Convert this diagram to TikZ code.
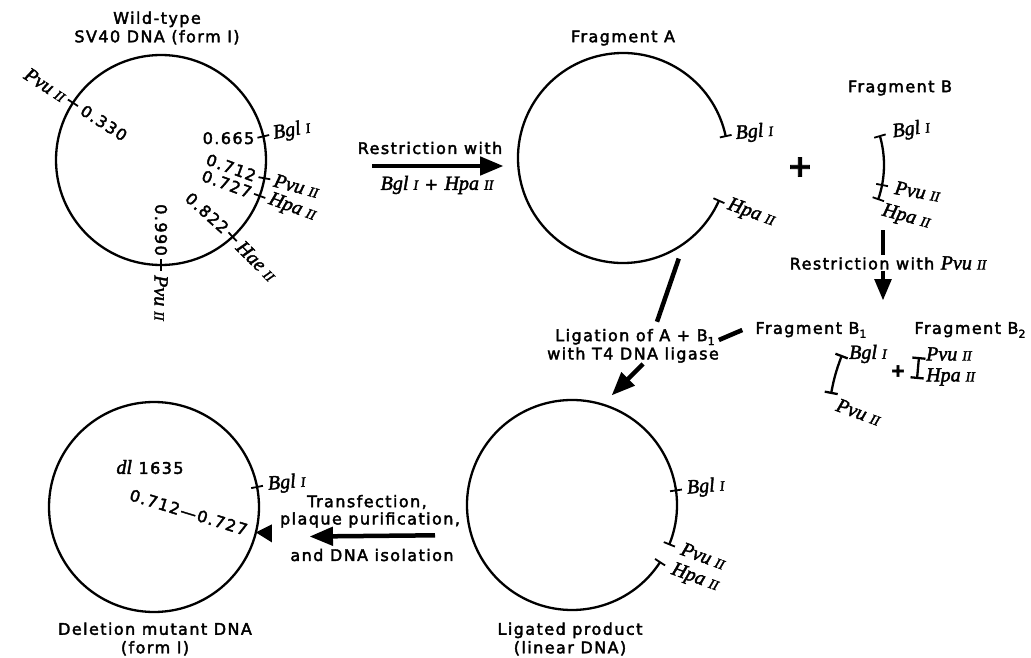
\documentclass[tikz,border=0pt]{standalone}
\usepackage{fontspec}
\setmainfont{DejaVu Sans}[LetterSpace=9,FakeBold=2.5]
\newfontfamily\enzfont{Liberation Serif}[FakeBold=2]
\usepackage{tikz}
\usetikzlibrary{arrows,calc}

% enzyme name: italic name + roman number
\newcommand{\enz}[2]{{\enzfont\itshape\fontsize{20}{20}\selectfont #1\ \fontsize{14}{14}\selectfont #2}}
\newcommand{\sub}[1]{\raisebox{-0.45ex}{\fontsize{11}{11}\selectfont #1}}

\begin{document}
\begin{tikzpicture}[x=1pt,y=1pt,>=triangle 45,
    txt/.style={font=\fontsize{16}{18.5}\selectfont,align=center,inner sep=1pt},
    num/.style={font=\fontsize{16}{18}\selectfont,inner sep=1pt},
    enzl/.style={inner sep=1pt},
    ring/.style={circle,minimum size=210pt,inner sep=0pt,outer sep=0pt},
    dna/.style={line width=2.3pt},
    site/.style={line width=1.8pt},
    heavy/.style={line width=4.5pt}]
    \useasboundingbox (0,0) rectangle (1031,-658);

    % wild-type circle
    \node[txt] (wttitle) at (157,-28) {Wild-type\\SV40 DNA (form I)};
    \node[ring,draw,dna] (wt) at (161,-160) {};
    \foreach \a in {147,13,-10,-20,-47,-90}
        \draw[site] ([shift={(\a+180:6)}]wt.\a) -- ([shift={(\a:6)}]wt.\a);
    \node[num,anchor=west,rotate=-33] (n330) at ([shift={(327:10)}]wt.147) {0.330};
    \node[enzl,anchor=east,rotate=-33] (pvua) at ([shift={(147:9)}]wt.147) {\enz{Pvu}{II}};
    \node[num,anchor=east] (n665) at ([shift={(193:8)}]wt.13) {0.665};
    \node[enzl,anchor=west,rotate=10] (bgla) at ([shift={(13:9)}]wt.13) {\enz{Bgl}{I}};
    \node[num,anchor=east,rotate=-20] (n712) at ([shift={(170:8)}]wt.-10) {0.712};
    \node[enzl,anchor=west,rotate=-15] (pvub) at ([shift={(-10:9)}]wt.-10) {\enz{Pvu}{II}};
    \node[num,anchor=east,rotate=-20] (n727) at ([shift={(160:8)}]wt.-20) {0.727};
    \node[enzl,anchor=west,rotate=-20] (hpaa) at ([shift={(-20:9)}]wt.-20) {\enz{Hpa}{II}};
    \node[num,anchor=east,rotate=-42] (n822) at ([shift={(133:8)}]wt.-47) {0.822};
    \node[enzl,anchor=west,rotate=-45] (haea) at ([shift={(-47:9)}]wt.-47) {\enz{Hae}{II}};
    \node[num,anchor=east,rotate=-90] (n990) at ([shift={(90:8)}]wt.-90) {0.990};
    \node[enzl,anchor=west,rotate=-90] (pvuc) at ([shift={(-90:9)}]wt.-90) {\enz{Pvu}{II}};

    % fragment A
    \node[txt] (fatitle) at (623,-38) {Fragment A};
    \node[ring] (fa) at (623,-158) {};
    \draw[dna] (fa.12) arc[start angle=12,end angle=336,radius=105];
    \foreach \a in {12,-24}
        \draw[site] ([shift={(\a+180:6)}]fa.\a) -- ([shift={(\a:6)}]fa.\a);
    \node[enzl,anchor=west,rotate=5] (bglfa) at ([shift={(12:9)}]fa.12) {\enz{Bgl}{I}};
    \node[enzl,anchor=west,rotate=-20] (hpafa) at ([shift={(-24:9)}]fa.-24) {\enz{Hpa}{II}};
    \node[font=\fontsize{30}{30}\selectfont\bfseries] (plusa) at (800,-167) {+};

    % first restriction
    \node[txt] (cut1) at (430,-148) {Restriction with};
    \node[txt] (cut2) at (437,-185) {\enz{Bgl}{I} + \enz{Hpa}{II}};
    \draw[heavy,->,shorten <=106pt,shorten >=15pt] ([yshift=-6pt]wt.east) -- ([yshift=-8pt]fa.west);

    % fragment B
    \node[txt] (fbtitle) at (900,-88) {Fragment B};
    \node[ring] (fb) at (779,-165) {};
    \draw[dna] (fb.16) arc[start angle=16,end angle=-19,radius=105];
    \foreach \a in {16,-11,-19}
        \draw[site] ([shift={(\a+180:6)}]fb.\a) -- ([shift={(\a:6)}]fb.\a);
    \node[enzl,anchor=west,rotate=8] (bglfb) at ([shift={(16:12)}]fb.16) {\enz{Bgl}{I}};
    \node[enzl,anchor=west,rotate=-10] (pvufb) at ([shift={(-11:12)}]fb.-11) {\enz{Pvu}{II}};
    \node[enzl,anchor=north west,rotate=-15] (hpafb) at ([shift={(-19:6)}]fb.-19) {\enz{Hpa}{II}};

    % second restriction
    \coordinate (bstem) at (883,-230);
    \coordinate (bsplit) at (883,-300);
    \node[txt] (cutpvu) at (888,-263) {Restriction with \enz{Pvu}{II}};
    \draw[line width=4pt] (bstem) -- (cutpvu.north -| bstem);
    \draw[line width=4pt,->] (cutpvu.south -| bstem) -- (bsplit);

    % fragments B1 and B2
    \node[txt] (fbone) at (811,-330) {Fragment B\sub{1}};
    \node[txt] (fbtwo) at (970,-330) {Fragment B\sub{2}};
    \draw[dna,|-|] (842,-355) to[bend right=5] (831,-394);
    \node[enzl,anchor=west] (bglb1) at (848,-354) {\enz{Bgl}{I}};
    \node[enzl,anchor=west,rotate=-20] (pvub1) at (836,-404) {\enz{Pvu}{II}};
    \node[font=\fontsize{18}{18}\selectfont\bfseries] (plusb) at (898,-371) {+};
    \draw[dna,|-|] (919,-357) -- (917,-379);
    \node[enzl,anchor=west] (pvub2) at (925,-354) {\enz{Pvu}{II}};
    \node[enzl,anchor=west] (hpab2) at (925,-377) {\enz{Hpa}{II}};

    % ligation
    \node[txt] (ligone) at (635,-337) {Ligation of A + B\sub{1}};
    \node[txt] (ligtwo) at (633,-355) {with T4 DNA ligase};
    \draw[heavy] ($(fa.-61)+(-61:10)$) -- ([shift={(22pt,6pt)}]ligone.north);
    \draw[heavy] ([xshift=-12pt]fbone.west) -- ([shift={(3pt,-3pt)}]ligone.east);

    % ligated product
    \node[ring] (lp) at (572,-505) {};
    \draw[heavy,->] ([xshift=10pt]ligtwo.south) -- ($(lp.70)+(70:12)$);
    \draw[dna] (lp.-22) arc[start angle=-22,end angle=327,radius=105];
    \foreach \a in {8,-22,-33}
        \draw[site] ([shift={(\a+180:6)}]lp.\a) -- ([shift={(\a:6)}]lp.\a);
    \node[enzl,anchor=west,rotate=5] (bglp) at ([shift={(8:10)}]lp.8) {\enz{Bgl}{I}};
    \node[enzl,anchor=west,rotate=-20] (pvulp) at ([shift={(-17:12)}]lp.-22) {\enz{Pvu}{II}};
    \node[enzl,anchor=west,rotate=-20] (hpalp) at ([shift={(-33:13)}]lp.-33) {\enz{Hpa}{II}};
    \node[txt] (lptitle) at (570,-639) {Ligated product\\(linear DNA)};

    % deletion mutant
    \node[ring,draw,dna] (del) at (154,-507) {};
    \draw[site] ([shift={(191:6)}]del.11) -- ([shift={(11:6)}]del.11);
    \node[enzl,anchor=west,rotate=5] (bgldel) at ([shift={(11:10)}]del.11) {\enz{Bgl}{I}};
    \node[txt] (dlname) at (150,-467) {{\enzfont\fontsize{20}{20}\selectfont\itshape dl} 1635};
    \node[num,anchor=east,rotate=-17] (span) at ([shift={(166:8)}]del.-14) {0.712—0.727};
    \fill (del.-14) -- ++(16,8) -- ++(0,-18) -- cycle;
    \node[txt] (deltitle) at (155,-639) {Deletion mutant DNA\\(form I)};

    % transfection
    \node[txt] (tfone) at (367,-502) {Transfection,};
    \node[txt] (tftwo) at (370,-520) {plaque purification,};
    \node[txt] (tfthree) at (372,-555) {and DNA isolation};
    \draw[heavy,->,shorten <=32pt,shorten >=51pt] ([yshift=-30pt]lp.west) -- ([yshift=-30pt]del.east);
\end{tikzpicture}
\end{document}
